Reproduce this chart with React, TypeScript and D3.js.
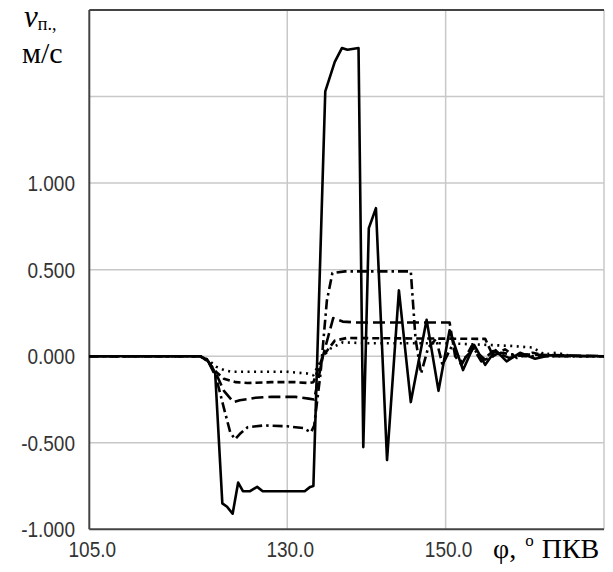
import React from "react";
import * as d3 from "d3";

type P = [number, number];

const solid: P[] = [
  [105, 0], [119, 0], [119.9, -0.02], [120.9, -0.1], [121.8, -0.85], [122.4, -0.87], [123.1, -0.91],
  [123.8, -0.73], [124.4, -0.78], [125.3, -0.78], [126.2, -0.755], [126.9, -0.78], [132.2, -0.78],
  [132.9, -0.755], [133.3, -0.75], [134.8, 1.53], [136.0, 1.7], [136.9, 1.78], [137.6, 1.77],
  [139.0, 1.78], [139.6, -0.525], [140.3, 0.74], [141.2, 0.855], [142.6, -0.6], [144.1, 0.38],
  [145.6, -0.265], [147.6, 0.21], [149.1, -0.2], [150.5, 0.15], [152.2, -0.08], [153.6, 0.065],
  [155.0, -0.05], [156.3, 0.035], [157.7, -0.03], [159.4, 0.02], [161.3, -0.015], [163.2, 0.005], [170, 0],
];

const dashDot: P[] = [
  [105, 0], [119, 0], [120, -0.03], [121, -0.12], [122, -0.3], [122.8, -0.44], [123.4, -0.48],
  [124, -0.45], [125, -0.41], [127, -0.4], [130, -0.405], [132, -0.415], [133, -0.44], [133.4, -0.4],
  [134.2, -0.1], [135, 0.32], [135.7, 0.48], [137.3, 0.49], [145.6, 0.49], [146.2, 0.1], [146.9, -0.1],
  [147.8, 0.05], [148.8, 0.1], [149.6, -0.05], [150.8, 0.06], [152, -0.03], [153.5, 0.04], [155, -0.02],
  [157, 0.02], [160, 0], [170, 0],
];

const longDash: P[] = [
  [105, 0], [119, 0], [120, -0.03], [121, -0.1], [122, -0.2], [123.2, -0.265], [124, -0.255],
  [126, -0.24], [128, -0.235], [131, -0.235], [132.7, -0.245], [133.4, -0.25], [134.5, 0.0],
  [135.8, 0.22], [137, 0.2], [138.6, 0.195], [150.5, 0.195], [151.2, 0.0], [152, -0.05], [153.3, 0.06],
  [154.5, -0.03], [156, 0.03], [158, -0.01], [160, 0.01], [170, 0],
];

const shortDash: P[] = [
  [105, 0], [119, 0], [120, -0.03], [121, -0.09], [122, -0.13], [123.5, -0.15], [125, -0.155],
  [128, -0.15], [131, -0.15], [132.7, -0.155], [133.3, -0.15], [134.5, 0.0], [136, 0.09],
  [137.5, 0.105], [155, 0.1], [156, 0.0], [157.5, 0.04], [159, -0.01], [161, 0.02], [163, 0], [170, 0],
];

const dotted: P[] = [
  [105, 0], [119, 0], [120, -0.02], [121, -0.06], [122, -0.08], [123, -0.09], [130, -0.09],
  [132.5, -0.1], [133.3, -0.11], [134.5, 0.0], [135.5, 0.045], [137, 0.08], [140, 0.075],
  [150, 0.075], [158, 0.06], [161, 0.05], [162.5, 0.01], [164, 0.02], [166, 0], [170, 0],
];

const yTicks = [1.0, 0.5, 0.0, -0.5, -1.0];
const yGrid = [1.5, 1.0, 0.5, 0.0, -0.5];
const xTicks = [105, 130, 150];
const xGrid = [130, 150, 170];

const series = [
  { data: dotted, dash: "2,4.5" },
  { data: shortDash, dash: "7,4" },
  { data: longDash, dash: "12,5" },
  { data: dashDot, dash: "10,4,2.5,4" },
  { data: solid, dash: "" },
];

export default function App() {
  const x = d3.scaleLinear().domain([105, 170]).range([89.3, 604]);
  const y = d3.scaleLinear().domain([-1, 2]).range([529.3, 10]);
  const line = d3
    .line<P>()
    .x((d) => x(d[0]))
    .y((d) => y(d[1]));
  const tickFont = "'Liberation Sans', Arial, sans-serif";
  const serif = "'Liberation Serif', 'Times New Roman', serif";
  return (
    <svg width={613} height={572} style={{ position: "absolute", left: 0, top: 0, background: "#fff" }}>
      <rect x={0} y={0} width={613} height={572} fill="#fff" />
      {yGrid.map((v) => (
        <line key={"yg" + v} x1={x(105)} x2={x(170)} y1={y(v)} y2={y(v)} stroke="#c8c8c8" strokeWidth={1.5} />
      ))}
      {xGrid.map((v) => (
        <line key={"xg" + v} x1={x(v)} x2={x(v)} y1={y(2)} y2={y(-1)} stroke="#c8c8c8" strokeWidth={1.5} />
      ))}
      <line x1={x(105)} x2={x(170)} y1={y(2)} y2={y(2)} stroke="#444" strokeWidth={2} />
      <line x1={x(105)} x2={x(105)} y1={y(2)} y2={y(-1)} stroke="#444" strokeWidth={2} />
      <line x1={x(105)} x2={x(170)} y1={y(-1)} y2={y(-1)} stroke="#444" strokeWidth={2} />
      {series.map((s, i) => (
        <path
          key={i}
          d={line(s.data) || ""}
          fill="none"
          stroke="#000"
          strokeWidth={2.6}
          strokeDasharray={s.dash || undefined}
          strokeLinejoin="round"
        />
      ))}
      {yTicks.map((v) => (
        <text
          key={"yt" + v}
          x={75}
          y={y(v)}
          dy="0.36em"
          textAnchor="end"
          fontFamily={tickFont}
          fontSize={19}
          fill="#333"
          transform={`translate(0,${y(v)}) scale(1,1.18) translate(0,${-y(v)})`}
        >
          {v.toFixed(3)}
        </text>
      ))}
      {xTicks.map((v) => (
        <text
          key={"xt" + v}
          x={x(v) + 3}
          y={549}
          dy="0.36em"
          textAnchor="middle"
          fontFamily={tickFont}
          fontSize={19}
          fill="#333"
          transform={`translate(0,549) scale(1,1.18) translate(0,-549)`}
        >
          {v.toFixed(1)}
        </text>
      ))}
      <text x={493} y={558} fontFamily={serif} fontSize={28} fill="#000">
        φ,
        <tspan dx={9} dy={-12} fontSize={17}>o</tspan>
        <tspan dx={8} dy={12}>ПКВ</tspan>
      </text>
      <text x={24} y={27} fontFamily={serif} fontSize={31} fill="#000">
        <tspan fontStyle="italic">v</tspan>
        <tspan dy={3} fontSize={18}>п.,</tspan>
      </text>
      <text x={22} y={63} fontFamily={serif} fontSize={30} fill="#000">
        м/с
      </text>
    </svg>
  );
}
